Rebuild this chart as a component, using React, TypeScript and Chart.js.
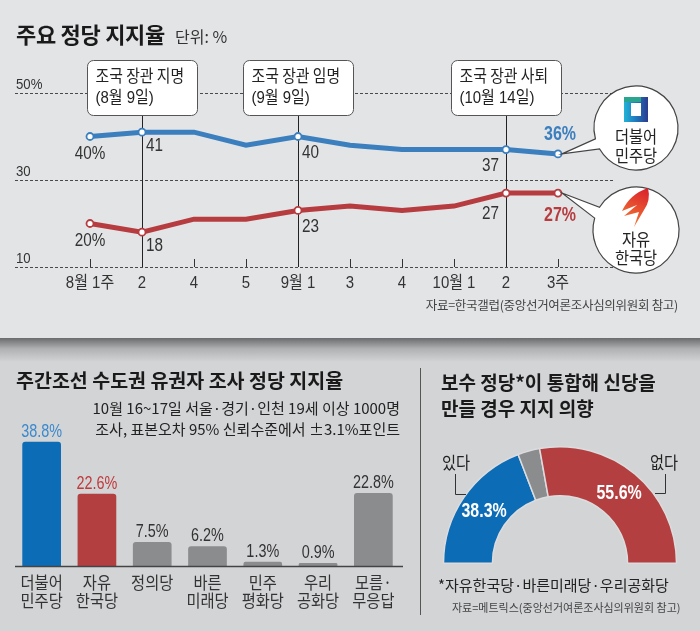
import React, { useEffect, useRef } from "react";
import { Chart, registerables } from "chart.js";

Chart.register(...registerables);

// ---------------- data ----------------
const weekLabels = ["8월 1주", "2", "4", "5", "9월 1", "3", "4", "10월 1", "2", "3주"];
const minjuSeries = [40, 41, 41, 38, 40, 38, 37, 37, 37, 36];
const libertySeries = [20, 18, 21, 21, 23, 24, 23, 24, 27, 27];
const markedWeeks = [0, 1, 4, 8, 9];
const yGridValues = [50, 30, 10];
const yGridLabels = ["50%", "30", "10"];
const eventWeeks = [1, 4, 8];
const eventTitles = ["조국 장관 지명", "조국 장관 임명", "조국 장관 사퇴"];
const eventDates = ["(8월 9일)", "(9월 9일)", "(10월 14일)"];
const badgeNames = [["더불어", "민주당"], ["자유", "한국당"]];

const partyNames = [["더불어", "민주당"], ["자유", "한국당"], ["정의당"], ["바른", "미래당"], ["민주", "평화당"], ["우리", "공화당"], ["모름·", "무응답"]];
const partyValues = [38.8, 22.6, 7.5, 6.2, 1.3, 0.9, 22.8];

const mergeLabels = ["있다", "모름", "없다"];
const mergeValues = [38.3, 6.1, 55.6];

// ---------------- styles ----------------
const NFONT = "'Liberation Sans', Arial, 'Noto Sans CJK KR', sans-serif";
const KFONT = "'Noto Sans CJK KR', sans-serif";
const f = (px: number, w: number | string = 400, fam = NFONT) => `${w} ${px}px ${fam}`;

const LINE_BLUE = "#3b7fbe";
const LINE_RED = "#b63c40";
const BAR_BLUE = "#0d6cb6";
const BAR_RED = "#b43f40";
const BAR_GRAY = "#8b8c8e";
const TOP_BG = "#e3e4e6";
const BOTTOM_BG = "#d3d4d6";

// condensed text: horizontal squeeze around the anchor
function cText(ctx: CanvasRenderingContext2D, s: string, x: number, y: number, sx: number) {
  ctx.save();
  ctx.translate(x, y);
  ctx.scale(sx, 1);
  ctx.fillText(s, 0, 0);
  ctx.restore();
}

const linePlugin = {
  id: "lineDecor",
  beforeDatasetsDraw(chart: any) {
    const { ctx, scales } = chart;
    const x = scales.x, y = scales.y;
    ctx.save();
    ctx.strokeStyle = "#4a4a4a";
    ctx.lineWidth = 1;
    ctx.setLineDash([3, 2]);
    yGridValues.forEach((v) => {
      const py = Math.round(y.getPixelForValue(v)) + 0.5;
      ctx.beginPath();
      ctx.moveTo(15, py);
      ctx.lineTo(615, py);
      ctx.stroke();
    });
    ctx.setLineDash([]);
    ctx.fillStyle = "#333";
    ctx.font = f(15);
    ctx.textAlign = "left";
    ctx.textBaseline = "alphabetic";
    yGridValues.forEach((v, i) => cText(ctx, yGridLabels[i], 16, y.getPixelForValue(v) - 4, 0.88));
    const base = y.getPixelForValue(10);
    ctx.strokeStyle = "#333";
    weekLabels.forEach((_, i) => {
      const px = Math.round(x.getPixelForValue(i)) + 0.5;
      ctx.beginPath();
      ctx.moveTo(px, base - 8);
      ctx.lineTo(px, base);
      ctx.stroke();
    });
    ctx.textAlign = "center";
    ctx.textBaseline = "middle";
    ctx.font = f(17);
    ctx.fillStyle = "#333";
    weekLabels.forEach((w, i) => cText(ctx, w, x.getPixelForValue(i), base + 16, 0.88));
    ctx.strokeStyle = "#222";
    eventWeeks.forEach((wi) => {
      const px = Math.round(x.getPixelForValue(wi)) + 0.5;
      ctx.beginPath();
      ctx.moveTo(px, 115);
      ctx.lineTo(px, base);
      ctx.stroke();
    });
    ctx.restore();
  },
  afterDatasetsDraw(chart: any) {
    const { ctx, scales } = chart;
    const x = scales.x, y = scales.y;
    ctx.save();
    eventWeeks.forEach((wi, k) => {
      const cx = x.getPixelForValue(wi);
      const bx = Math.round(cx - 55) + 0.5, by = 60.5, bw = 110, bh = 55;
      ctx.beginPath();
      ctx.roundRect(bx, by, bw, bh, 6);
      ctx.fillStyle = "#fff";
      ctx.fill();
      ctx.strokeStyle = "#555";
      ctx.lineWidth = 1;
      ctx.stroke();
      ctx.fillStyle = "#222";
      ctx.font = f(16.5, 400, KFONT);
      ctx.textAlign = "left";
      ctx.textBaseline = "middle";
      cText(ctx, eventTitles[k], bx + 8, by + 15, 0.9);
      ctx.font = f(17);
      cText(ctx, eventDates[k], bx + 8, by + 38, 0.88);
    });

    const series = [minjuSeries, libertySeries];
    const colors = [LINE_BLUE, LINE_RED];
    series.forEach((vals, s) => {
      markedWeeks.forEach((wi) => {
        const px = x.getPixelForValue(wi);
        const py = y.getPixelForValue(vals[wi]);
        const last = wi === weekLabels.length - 1;
        const first = wi === 0;
        const t = vals[wi] + (first || last ? "%" : "");
        ctx.textBaseline = "middle";
        if (last) {
          ctx.font = f(20, 700);
          ctx.fillStyle = colors[s];
          ctx.textAlign = "center";
          cText(ctx, t, px + 2, s === 0 ? py - 19 : py + 22, 0.8);
        } else if (first) {
          ctx.font = f(18);
          ctx.fillStyle = "#333";
          ctx.textAlign = "center";
          cText(ctx, t, px, py + 18, 0.85);
        } else if (wi === 8) {
          ctx.font = f(18);
          ctx.fillStyle = "#333";
          ctx.textAlign = "right";
          cText(ctx, t, px - 7, s === 0 ? py + 16 : py + 21, 0.85);
        } else {
          ctx.font = f(18);
          ctx.fillStyle = "#333";
          ctx.textAlign = "left";
          cText(ctx, t, px + 4, py + (wi === 1 ? 14 : 17), 0.85);
        }
      });
    });

    const lastIdx = weekLabels.length - 1;
    const tipX = x.getPixelForValue(lastIdx) + 4;
    const badge = (cx: number, cy: number, r: number, tx: number, ty: number, a1: number, a2: number) => {
      const d = Math.PI / 180;
      ctx.beginPath();
      ctx.moveTo(tx, ty);
      ctx.lineTo(cx + r * Math.cos(a1 * d), cy + r * Math.sin(a1 * d));
      ctx.arc(cx, cy, r, a1 * d, a2 * d, false);
      ctx.closePath();
      ctx.fillStyle = "#fff";
      ctx.fill();
      ctx.strokeStyle = "#444";
      ctx.lineWidth = 1.2;
      ctx.stroke();
    };
    badge(636, 128, 42, tipX, y.getPixelForValue(minjuSeries[lastIdx]), 165, 150);
    badge(636, 230, 43, tipX, y.getPixelForValue(libertySeries[lastIdx]), 212, 196);

    // blue logo
    const g = ctx.createLinearGradient(624, 0, 648, 0);
    g.addColorStop(0, "#22b3d6");
    g.addColorStop(0.45, "#1f7fc2");
    g.addColorStop(1, "#2b3b8e");
    ctx.fillStyle = g;
    ctx.fillRect(624, 97, 24, 25);
    ctx.fillStyle = "#2aa58f";
    ctx.fillRect(624, 97, 17, 5);
    ctx.fillStyle = "#fff";
    ctx.fillRect(631, 103, 10, 13);

    // red logo (torch)
    const g2 = ctx.createLinearGradient(646, 188, 628, 226);
    g2.addColorStop(0, "#d9202c");
    g2.addColorStop(1, "#f47b32");
    ctx.fillStyle = g2;
    ctx.beginPath();
    ctx.moveTo(648, 188);
    ctx.quadraticCurveTo(630, 194, 622, 211);
    ctx.lineTo(637, 205);
    ctx.lineTo(624, 216);
    ctx.lineTo(639, 212);
    ctx.lineTo(634, 227);
    ctx.lineTo(644, 210);
    ctx.quadraticCurveTo(651, 200, 648, 188);
    ctx.closePath();
    ctx.fill();

    ctx.fillStyle = "#222";
    ctx.font = f(17, 400, KFONT);
    ctx.textAlign = "center";
    ctx.textBaseline = "middle";
    cText(ctx, badgeNames[0][0], 636, 137, 0.9);
    cText(ctx, badgeNames[0][1], 636, 156, 0.9);
    cText(ctx, badgeNames[1][0], 636, 240, 0.9);
    cText(ctx, badgeNames[1][1], 636, 258, 0.9);
    ctx.restore();
  },
};

const barPlugin = {
  id: "barDecor",
  afterDatasetsDraw(chart: any) {
    const { ctx, scales } = chart;
    const y = scales.y;
    const base = Math.round(y.getPixelForValue(0)) + 0.5;
    ctx.save();
    ctx.strokeStyle = "#444";
    ctx.lineWidth = 1.5;
    ctx.beginPath();
    ctx.moveTo(15, base);
    ctx.lineTo(403, base);
    ctx.stroke();
    const meta = chart.getDatasetMeta(0);
    const valueColors = ["#3b89cc", "#c0393b"];
    meta.data.forEach((bar: any, i: number) => {
      ctx.fillStyle = valueColors[i] || "#333";
      ctx.font = f(18);
      ctx.textAlign = "center";
      ctx.textBaseline = "alphabetic";
      cText(ctx, partyValues[i].toFixed(1) + "%", bar.x, bar.y - 5, 0.8);
      ctx.fillStyle = "#333";
      ctx.font = f(17, 400, KFONT);
      ctx.textBaseline = "middle";
      partyNames[i].forEach((ln, k) => cText(ctx, ln, bar.x, base + 16 + k * 18, 0.9));
    });
    ctx.restore();
  },
};

const doughnutPlugin = {
  id: "doughnutDecor",
  afterDatasetsDraw(chart: any) {
    const { ctx } = chart;
    const meta = chart.getDatasetMeta(0);
    ctx.save();
    ctx.fillStyle = "#fff";
    ctx.font = f(21, 700);
    ctx.textAlign = "center";
    ctx.textBaseline = "middle";
    [0, 2].forEach((i) => {
      const p = meta.data[i].tooltipPosition();
      cText(ctx, mergeValues[i].toFixed(1) + "%", p.x, p.y, 0.76);
    });
    ctx.fillStyle = "#222";
    ctx.font = f(17, 400, KFONT);
    cText(ctx, mergeLabels[0], 36, 125, 0.9);
    cText(ctx, mergeLabels[2], 244, 125, 0.9);
    ctx.strokeStyle = "#333";
    ctx.lineWidth = 1;
    ctx.beginPath();
    ctx.moveTo(35.5, 136);
    ctx.lineTo(35.5, 156.5);
    ctx.lineTo(46, 156.5);
    ctx.moveTo(245.5, 136);
    ctx.lineTo(245.5, 155.5);
    ctx.lineTo(235, 155.5);
    ctx.stroke();
    ctx.restore();
  },
};

const txt = (extra: any): any => ({
  position: "absolute",
  whiteSpace: "nowrap",
  fontFamily: KFONT,
  color: "#222",
  margin: 0,
  ...extra,
});

export default function App() {
  const lineRef = useRef<HTMLCanvasElement>(null);
  const barRef = useRef<HTMLCanvasElement>(null);
  const pieRef = useRef<HTMLCanvasElement>(null);

  useEffect(() => {
    const charts: Chart[] = [];
    const pr = (i: number) => (markedWeeks.includes(i) ? 3.5 : 0);
    charts.push(
      new Chart(lineRef.current as HTMLCanvasElement, {
        type: "line",
        data: {
          labels: weekLabels,
          datasets: [
            {
              data: minjuSeries,
              borderColor: LINE_BLUE,
              borderWidth: 5,
              pointRadius: weekLabels.map((_, i) => pr(i)),
              pointBackgroundColor: "#fff",
              pointBorderColor: LINE_BLUE,
              pointBorderWidth: 1.8,
              tension: 0,
              clip: false as any,
            },
            {
              data: libertySeries,
              borderColor: LINE_RED,
              borderWidth: 5,
              pointRadius: weekLabels.map((_, i) => pr(i)),
              pointBackgroundColor: "#fff",
              pointBorderColor: LINE_RED,
              pointBorderWidth: 1.8,
              tension: 0,
              clip: false as any,
            },
          ],
        },
        options: {
          animation: false,
          responsive: false,
          events: [],
          layout: { padding: { left: 90, right: 142, top: 93, bottom: 71 } },
          plugins: { legend: { display: false }, tooltip: { enabled: false } },
          scales: {
            x: { display: false, offset: false },
            y: { display: false, min: 10, max: 50 },
          },
        },
        plugins: [linePlugin],
      })
    );

    charts.push(
      new Chart(barRef.current as HTMLCanvasElement, {
        type: "bar",
        data: {
          labels: partyNames.map((n) => n.join("")),
          datasets: [
            {
              data: partyValues,
              backgroundColor: [BAR_BLUE, BAR_RED, BAR_GRAY, BAR_GRAY, BAR_GRAY, BAR_GRAY, BAR_GRAY],
              borderRadius: { topLeft: 3, topRight: 3, bottomLeft: 0, bottomRight: 0 },
              borderSkipped: false,
              barPercentage: 0.7,
              categoryPercentage: 1,
            },
          ],
        },
        options: {
          animation: false,
          responsive: false,
          events: [],
          layout: { padding: { left: 14, right: 19, top: 68, bottom: 65 } },
          plugins: { legend: { display: false }, tooltip: { enabled: false } },
          scales: {
            x: { display: false },
            y: { display: false, min: 0, max: 50 },
          },
        },
        plugins: [barPlugin],
      })
    );

    charts.push(
      new Chart(pieRef.current as HTMLCanvasElement, {
        type: "doughnut",
        data: {
          labels: mergeLabels,
          datasets: [
            {
              data: mergeValues,
              backgroundColor: [BAR_BLUE, BAR_GRAY, BAR_RED],
              borderColor: "#dcdcde",
              borderWidth: 1.5,
            },
          ],
        },
        options: {
          animation: false,
          responsive: false,
          events: [],
          rotation: -90,
          circumference: 180,
          cutout: "58%",
          layout: { padding: { left: 22, right: 22, top: 108, bottom: 67 } },
          plugins: { legend: { display: false }, tooltip: { enabled: false } },
        },
        plugins: [doughnutPlugin],
      })
    );

    return () => charts.forEach((c) => c.destroy());
  }, []);

  return (
    <div style={{ position: "absolute", left: 0, top: 0, width: 700, height: 631, overflow: "hidden", background: TOP_BG }}>
      <canvas ref={lineRef} width={700} height={338} style={{ position: "absolute", left: 0, top: 0 }} />
      <div style={txt({ left: 16, top: 19, lineHeight: "28px", fontSize: 22, fontWeight: 700, color: "#1a1a1a", letterSpacing: "-0.3px" })}>
        주요 정당 지지율
      </div>
      <div style={txt({ left: 175, top: 25, lineHeight: "22px", fontSize: 16, color: "#333" })}>단위: %</div>
      <div style={txt({ right: 22, top: 297, lineHeight: "16px", fontSize: 12.5, color: "#444", letterSpacing: "-0.3px" })}>
        자료=한국갤럽(중앙선거여론조사심의위원회 참고)
      </div>

      <div style={{ position: "absolute", left: 0, top: 338, width: 700, height: 293, background: BOTTOM_BG }} />
      <div
        style={{
          position: "absolute",
          left: 0,
          top: 338,
          width: 700,
          height: 24,
          background: "linear-gradient(to bottom, #6a6b6e 0%, #b0b1b3 45%, #d3d4d6 100%)",
        }}
      />
      <canvas ref={barRef} width={420} height={293} style={{ position: "absolute", left: 0, top: 338 }} />
      <canvas ref={pieRef} width={280} height={293} style={{ position: "absolute", left: 420, top: 338 }} />
      <div style={{ position: "absolute", left: 420, top: 368, width: 1, height: 247, background: "#555" }} />

      <div style={txt({ left: 16, top: 367, lineHeight: "26px", fontSize: 19.5, fontWeight: 700, color: "#1a1a1a" })}>
        주간조선 수도권 유권자 조사 정당 지지율
      </div>
      <div style={txt({ right: 300, top: 397, lineHeight: "22px", fontSize: 15, textAlign: "right", color: "#222" })}>
        10월 16~17일 서울·경기·인천 19세 이상 1000명
      </div>
      <div style={txt({ right: 300, top: 418, lineHeight: "22px", fontSize: 15, textAlign: "right", color: "#222" })}>
        조사, 표본오차 95% 신뢰수준에서 ±3.1%포인트
      </div>

      <div style={txt({ left: 441, top: 369, lineHeight: "26px", fontSize: 19, fontWeight: 700, color: "#1a1a1a" })}>
        보수 정당*이 통합해 신당을
      </div>
      <div style={txt({ left: 441, top: 395, lineHeight: "26px", fontSize: 19, fontWeight: 700, color: "#1a1a1a" })}>
        만들 경우 지지 의향
      </div>
      <div style={txt({ left: 438, top: 574, lineHeight: "22px", fontSize: 15, color: "#222" })}>
        *자유한국당·바른미래당·우리공화당
      </div>
      <div style={txt({ left: 452, top: 599, lineHeight: "16px", fontSize: 11, color: "#444" })}>
        자료=메트릭스(중앙선거여론조사심의위원회 참고)
      </div>
    </div>
  );
}
